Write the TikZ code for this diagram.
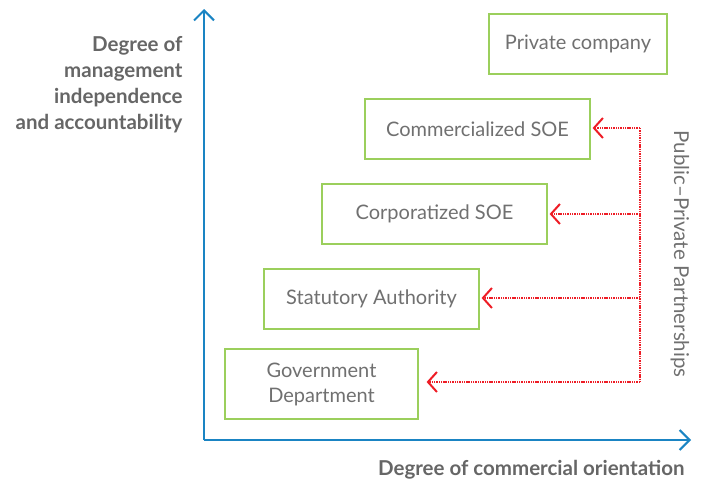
\documentclass[tikz,border=0pt]{standalone}
\usepackage{fontspec}
\setmainfont{Lato}
\usetikzlibrary{arrows.meta}
\definecolor{axisblue}{HTML}{1A84C3}
\definecolor{boxgreen}{HTML}{9BCF5C}
\definecolor{ppred}{HTML}{EE1C25}
\definecolor{txtgray}{HTML}{666666}
\definecolor{bodygray}{HTML}{707070}
\tikzset{
  box/.style={draw=boxgreen, line width=1.2pt, minimum height=60pt, align=center, text=bodygray, font=\fontsize{20}{25}\selectfont, inner sep=0pt},
  axis/.style={draw=axisblue, line width=2pt, -{Straight Barb[length=10pt,width=20pt,line width=2pt]}},
  ppp/.style={draw=ppred, line width=2.2pt, dash pattern=on 1.4pt off 0.9pt, line cap=butt},
  ppparrow/.style={ppp, -{Straight Barb[length=9pt,width=20pt,line width=2pt]}},
  axlabel/.style={text=txtgray, font=\bfseries\fontsize{20.5}{26}\selectfont}
}
\begin{document}
\begin{tikzpicture}[x=1pt,y=-1pt]
\useasboundingbox (0,0) rectangle (701,482);
\coordinate (O) at (204,440);
\coordinate (Ytop) at (204,9);
\coordinate (Xend) at (691,440);
\draw[axis] (O) -- (Ytop);
\draw[axis] (O) -- (Xend);

\node[box, minimum width=178pt] (pc) at (578,44) {Private company};
\node[box, minimum width=225pt] (csoe) at (477.5,129) {Commercialized SOE};
\node[box, minimum width=225pt] (corp) at (434.5,214) {Corporatized SOE};
\node[box, minimum width=215pt] (sa) at (371.5,299) {Statutory Authority};
\node[box, minimum width=193pt, minimum height=70pt] (gd) at (321.5,384) {Government\\Department};

\coordinate (v1) at (640,128);
\coordinate (v2) at (640,214);
\coordinate (v3) at (640,298);
\coordinate (v4) at (640,382);
\draw[ppp] (v1) -- (v4);
\draw[ppparrow] (v1) -- ([xshift=2pt]csoe.east |- v1);
\draw[ppparrow] (v2) -- ([xshift=2pt]corp.east |- v2);
\draw[ppparrow] (v3) -- ([xshift=2pt]sa.east |- v3);
\draw[ppparrow] (v4) -- ([xshift=8pt]gd.east |- v4);

\node[text=bodygray, font=\fontsize{20.5}{25}\selectfont, rotate=-90] (pppl) at (680,254) {Public–Private Partnerships};

\node[axlabel, anchor=east, align=right] (ylab) at (186,85) {Degree of\\management\\independence\\and accountability};
\node[axlabel, anchor=east] (xlab) at (688,470) {Degree of commercial orientation};
\end{tikzpicture}
\end{document}
